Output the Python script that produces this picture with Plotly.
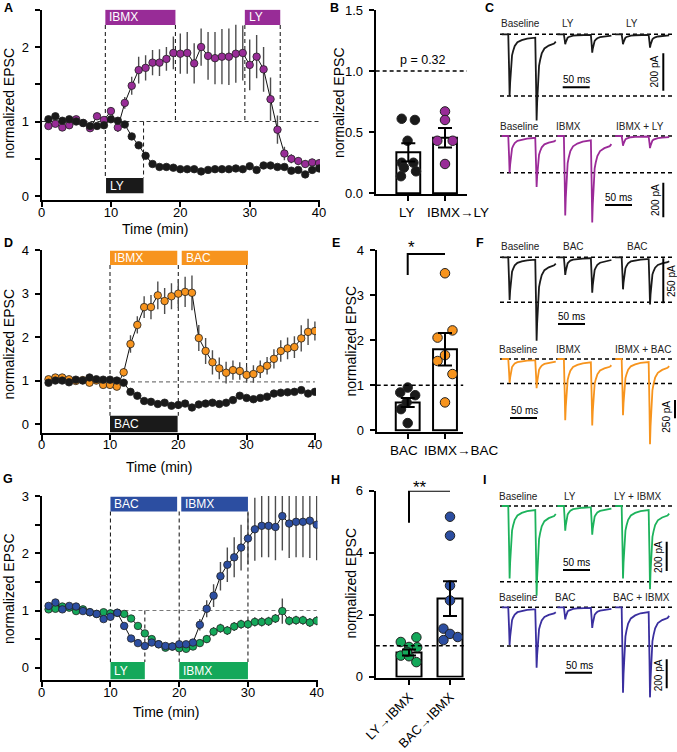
import plotly.graph_objects as go

W, H = 677, 752
FONT = "Liberation Sans, Arial, Helvetica, sans-serif"

# ------------------------------------------------------------------ data
TIME_MIN = list(range(1, 41))

# Panel A
A_IBMX_LY = [0.94, 0.97, 0.92, 0.95, 1.03, 0.98, 0.91, 1.07, 1.02, 1.14,
             0.92, 1.25, 1.48, 1.69, 1.72, 1.79, 1.79, 1.84, 1.92, 1.91,
             1.92, 1.78, 2.00, 1.88, 1.85, 1.87, 1.87, 1.91, 1.92, 1.76,
             1.87, 1.70, 1.30, 0.89, 0.57, 0.50, 0.47, 0.43, 0.45, 0.44]
A_IBMX_LY_SEM = [0.03, 0.03, 0.03, 0.03, 0.03, 0.03, 0.03, 0.04, 0.04, 0.05,
                 0.06, 0.08, 0.12, 0.18, 0.17, 0.17, 0.18, 0.16, 0.22, 0.27,
                 0.28, 0.27, 0.25, 0.32, 0.35, 0.37, 0.38, 0.39, 0.37, 0.34,
                 0.29, 0.30, 0.29, 0.19, 0.09, 0.06, 0.05, 0.05, 0.05, 0.05]
A_LY = [1.03, 1.07, 1.01, 1.03, 1.00, 0.98, 0.94, 0.94, 0.95, 1.03,
        1.01, 0.96, 0.80, 0.68, 0.54, 0.43, 0.39, 0.39, 0.38, 0.36,
        0.36, 0.36, 0.33, 0.35, 0.36, 0.36, 0.36, 0.37, 0.36, 0.40,
        0.35, 0.41, 0.41, 0.39, 0.39, 0.34, 0.35, 0.29, 0.35, 0.37]
A_LY_SEM = [0.04, 0.04, 0.03, 0.03, 0.03, 0.03, 0.03, 0.03, 0.03, 0.03,
            0.03, 0.03, 0.03, 0.03, 0.03, 0.03, 0.03, 0.03, 0.03, 0.03,
            0.03, 0.03, 0.03, 0.03, 0.03, 0.03, 0.03, 0.03, 0.03, 0.04,
            0.04, 0.04, 0.04, 0.04, 0.04, 0.04, 0.04, 0.04, 0.04, 0.04]

# Panel B
B_CATS = ["LY", "IBMX\u2192LY"]
B_MEAN = [0.335, 0.455]
B_SEM = [0.075, 0.08]
B_LY_PTS = [0.61, 0.60, 0.43, 0.25, 0.25, 0.21, 0.18, 0.14]
B_IBMX_LY_PTS = [0.67, 0.60, 0.43, 0.43, 0.24]
B_P_TEXT = "p = 0.32"

# Panel D
D_IBMX_BAC = [1.03, 1.07, 1.07, 1.03, 0.99, 1.01, 0.95, 1.00, 0.90, 0.90,
              0.86, 1.19, 1.84, 2.28, 2.69, 2.69, 2.96, 2.83, 2.94, 3.00,
              3.04, 3.02, 1.98, 1.68, 1.42, 1.28, 1.18, 1.24, 1.22, 1.13,
              1.15, 1.26, 1.34, 1.50, 1.68, 1.74, 1.77, 1.97, 2.12, 2.14]
D_IBMX_BAC_SEM = [0.03, 0.03, 0.03, 0.03, 0.03, 0.03, 0.03, 0.04, 0.04, 0.05,
                  0.05, 0.10, 0.20, 0.20, 0.25, 0.28, 0.32, 0.30, 0.30, 0.33,
                  0.35, 0.40, 0.30, 0.30, 0.28, 0.25, 0.25, 0.22, 0.20, 0.18,
                  0.20, 0.20, 0.20, 0.22, 0.25, 0.25, 0.25, 0.30, 0.30, 0.22]
D_BAC = [0.95, 1.00, 1.00, 0.96, 1.02, 1.00, 1.07, 1.03, 1.02, 1.02,
         1.00, 0.95, 0.74, 0.65, 0.53, 0.51, 0.46, 0.49, 0.42, 0.44,
         0.47, 0.38, 0.45, 0.47, 0.49, 0.46, 0.49, 0.55, 0.65, 0.60,
         0.57, 0.60, 0.63, 0.70, 0.72, 0.73, 0.74, 0.78, 0.70, 0.74]
D_BAC_SEM = [0.04, 0.04, 0.04, 0.04, 0.04, 0.04, 0.04, 0.04, 0.04, 0.04,
             0.04, 0.04, 0.04, 0.04, 0.04, 0.04, 0.04, 0.04, 0.04, 0.04,
             0.04, 0.04, 0.04, 0.04, 0.04, 0.04, 0.04, 0.04, 0.04, 0.04,
             0.04, 0.04, 0.04, 0.04, 0.04, 0.04, 0.04, 0.04, 0.04, 0.04]

# Panel E
E_CATS = ["BAC", "IBMX\u2192BAC"]
E_MEAN = [0.62, 1.80]
E_SEM = [0.10, 0.36]
E_BAC_PTS = [0.95, 0.84, 0.78, 0.62, 0.47, 0.16]
E_IBMX_BAC_PTS = [3.49, 2.22, 2.06, 1.67, 1.54, 1.25, 0.62]
E_SIG = "*"

# Panel G
G_BAC_IBMX = [1.08, 1.14, 1.02, 1.08, 1.07, 0.99, 0.97, 0.94, 0.85, 0.89,
              0.96, 0.73, 0.51, 0.43, 0.38, 0.44, 0.41, 0.38, 0.37, 0.41,
              0.41, 0.44, 0.75, 1.03, 1.26, 1.60, 1.80, 1.93, 2.10, 2.26,
              2.42, 2.48, 2.48, 2.46, 2.65, 2.52, 2.55, 2.55, 2.57, 2.50]
G_BAC_IBMX_SEM = [0.04, 0.04, 0.04, 0.04, 0.04, 0.04, 0.04, 0.04, 0.04, 0.04,
                  0.04, 0.05, 0.05, 0.05, 0.05, 0.05, 0.05, 0.05, 0.05, 0.05,
                  0.05, 0.06, 0.10, 0.15, 0.20, 0.25, 0.30, 0.35, 0.40, 0.45,
                  0.55, 0.55, 0.55, 0.58, 0.60, 0.60, 0.62, 0.62, 0.65, 0.62]
G_LY_IBMX = [1.02, 1.03, 1.07, 1.05, 0.99, 1.02, 0.97, 0.94, 0.97, 0.95,
             0.96, 0.94, 0.86, 0.73, 0.60, 0.50, 0.41, 0.35, 0.37, 0.34,
             0.33, 0.37, 0.43, 0.50, 0.63, 0.69, 0.65, 0.72, 0.76, 0.76,
             0.80, 0.80, 0.81, 0.86, 0.99, 0.82, 0.83, 0.83, 0.79, 0.82]
G_LY_IBMX_SEM = [0.04, 0.04, 0.04, 0.04, 0.04, 0.04, 0.04, 0.04, 0.04, 0.04,
                 0.04, 0.05, 0.05, 0.05, 0.05, 0.05, 0.05, 0.05, 0.05, 0.05,
                 0.05, 0.05, 0.06, 0.07, 0.08, 0.08, 0.08, 0.08, 0.08, 0.08,
                 0.08, 0.08, 0.08, 0.08, 0.22, 0.08, 0.08, 0.08, 0.08, 0.08]

# Panel H
H_CATS = ["LY\u2192IBMX", "BAC\u2192IBMX"]
H_MEAN = [0.78, 2.52]
H_SEM = [0.10, 0.56]
H_LY_IBMX_PTS = [1.27, 1.12, 0.96, 0.95, 0.68, 0.66, 0.47, 0.80]
H_BAC_IBMX_PTS = [5.16, 4.55, 2.94, 2.46, 1.55, 1.38, 1.28, 1.18]
H_SIG = "**"

# Example EPSC traces: peak amplitudes (pA) for [first, second] EPSC of each sweep
C_TOP_AMP = [[330, 443], [53, 95], [53, 68]]
C_BOT_AMP = [[212, 283], [460, 475], [56, 67]]
F_TOP_AMP = [[237, 450], [98, 191], [178, 252]]
F_BOT_AMP = [[325, 380], [836, 860], [767, 1120]]
I_TOP_AMP = [[493, 584], [168, 186], [493, 539]]
I_BOT_AMP = [[260, 403], [83, 138], [589, 589]]
C_TOP_LAB = ["Baseline", "LY", "LY"]
C_BOT_LAB = ["Baseline", "IBMX", "IBMX + LY"]
F_TOP_LAB = ["Baseline", "BAC", "BAC"]
F_BOT_LAB = ["Baseline", "IBMX", "IBMX + BAC"]
I_TOP_LAB = ["Baseline", "LY", "LY + IBMX"]
I_BOT_LAB = ["Baseline", "BAC", "BAC + IBMX"]
# normalized EPSC waveform (time after stimulus, ms)
EPSC_T = [0, 1.5, 2.5, 3.5, 5, 7, 9, 12, 17, 25, 35, 47]
EPSC_SHAPE = [0, -0.55, -1.0, -0.78, -0.5, -0.34, -0.27, -0.19, -0.13, -0.095, -0.07, -0.055]

# ------------------------------------------------------------------ styles
PURPLE = "#982c97"
ORANGE = "#f7941e"
BLUE = "#2c4ea1"
GREEN = "#14a85a"
BLACK = "#1a1a1a"
TR_PURPLE = "#9b2a98"
TR_ORANGE = "#f7941d"
TR_GREEN = "#1db35c"
TR_INDIGO = "#3a2f9f"

# jitter of individual cells in bar plots (x offsets in category units)
B_LY_JIT = [-0.18, 0.18, -0.02, -0.18, 0.14, -0.12, 0.21, -0.20]
B_IBMX_LY_JIT = [0.0, 0.0, -0.21, 0.21, 0.0]
E_BAC_JIT = [0.0, -0.20, 0.20, -0.03, -0.18, 0.0]
E_IBMX_BAC_JIT = [0.0, 0.20, -0.20, 0.0, -0.20, 0.20, 0.0]
H_LY_IBMX_JIT = [0.18, -0.20, 0.0, 0.20, -0.20, 0.0, 0.18, -0.05]
H_BAC_IBMX_JIT = [0.0, 0.0, 0.0, 0.0, -0.16, 0.0, 0.19, -0.16]

fig = go.Figure()
layout = {}
shapes = []
annos = []


def ax_names(n):
    return ("xaxis" if n == 1 else f"xaxis{n}", "yaxis" if n == 1 else f"yaxis{n}",
            "x" if n == 1 else f"x{n}", "y" if n == 1 else f"y{n}")


VIS = dict(showline=True, linecolor="black", linewidth=2, ticks="outside", ticklen=5,
           tickwidth=2, tickcolor="black", showgrid=False, zeroline=False,
           tickfont=dict(family=FONT, size=13, color="black"), automargin=False, fixedrange=True)


def set_axes(n, xl, xr, xzero, xppu, yt, yb, yzero, yppu, xkw=None, ykw=None, visible=True):
    xa, ya, xr_, yr_ = ax_names(n)
    base = dict(VIS) if visible else dict(visible=False, fixedrange=True, automargin=False)
    xd = dict(base, domain=[xl / W, xr / W], range=[(xl - xzero) / xppu, (xr - xzero) / xppu], anchor=yr_)
    yd = dict(base, domain=[1 - yb / H, 1 - yt / H], range=[(yzero - yb) / yppu, (yzero - yt) / yppu], anchor=xr_)
    if visible:
        xd["ticklabelstandoff"] = -6
        yd["ticklabelstandoff"] = 3
    if xkw:
        xd.update(xkw)
    if ykw:
        yd.update(ykw)
    layout[xa] = xd
    layout[ya] = yd


def paper_text(x, y, text, size=13, bold=False, angle=0, color="black", xanchor="center", yanchor="middle"):
    annos.append(dict(x=x / W, y=1 - y / H, xref="paper", yref="paper", text=f"<b>{text}</b>" if bold else text,
                      showarrow=False, textangle=angle, xanchor=xanchor, yanchor=yanchor,
                      font=dict(family=FONT, size=size, color=color)))


# ------------------------------------------------------------------ time courses
def time_course(n, series, drugs_top, drugs_bot, vlines, hline, hcolor, bar_top, bar_bot):
    xr_, yr_ = ax_names(n)[2:]
    for y, sem, col in series:
        fig.add_trace(go.Scatter(
            x=TIME_MIN, y=y, mode="lines+markers", xaxis=xr_, yaxis=yr_, showlegend=False,
            line=dict(color="#111111", width=1),
            marker=dict(size=7.5, color=col, line=dict(color="#222222", width=0.8)),
            error_y=dict(type="data", array=sem, color="#4d4d4d", thickness=1.4, width=0)))
    for (lab, x0, x1, col) in drugs_top:
        shapes.append(dict(type="rect", xref=xr_, yref=yr_, x0=x0, x1=x1, y0=bar_top[0], y1=bar_top[1],
                           fillcolor=col, line=dict(width=0), layer="above"))
        annos.append(dict(x=x0, y=(bar_top[0] + bar_top[1]) / 2, xref=xr_, yref=yr_, text=lab, showarrow=False,
                          xanchor="left", yanchor="middle", xshift=2,
                          font=dict(family=FONT, size=12, color="white")))
    for (lab, x0, x1, col) in drugs_bot:
        shapes.append(dict(type="rect", xref=xr_, yref=yr_, x0=x0, x1=x1, y0=bar_bot[0], y1=bar_bot[1],
                           fillcolor=col, line=dict(width=0), layer="above"))
        annos.append(dict(x=x0, y=(bar_bot[0] + bar_bot[1]) / 2, xref=xr_, yref=yr_, text=lab, showarrow=False,
                          xanchor="left", yanchor="middle", xshift=2,
                          font=dict(family=FONT, size=12, color="white")))
    for (x, y0, y1) in vlines:
        shapes.append(dict(type="line", xref=xr_, yref=yr_, x0=x, x1=x, y0=y0, y1=y1,
                           line=dict(color="#222222", width=1.1, dash="4px,3px"), layer="below"))
    shapes.append(dict(type="line", xref=xr_, yref=yr_, x0=hline[0], x1=hline[1], y0=hline[2], y1=hline[2],
                       line=dict(color=hcolor, width=1.1, dash="4px,3px"), layer="below"))


# A
set_axes(1, 41.5, 320, 41.5, 6.94, 9.7, 200, 196, 74.5,
         xkw=dict(tick0=0, dtick=10),
         ykw=dict(tick0=0, dtick=1, minor=dict(dtick=0.5, ticks="outside", ticklen=5, tickwidth=2, tickcolor="black")))
time_course(1, [(A_IBMX_LY, A_IBMX_LY_SEM, PURPLE), (A_LY, A_LY_SEM, BLACK)],
            [("IBMX", 9.2, 19.3, PURPLE), ("LY", 29.3, 34.4, PURPLE)],
            [("LY", 9.3, 14.7, BLACK)],
            [(9.2, 2.295, 0.24), (19.3, 2.295, 1.0), (29.3, 2.295, 1.0), (34.4, 2.295, 1.0), (14.7, 1.0, 0.24)],
            (0, 40, 1.0), "#333333", (2.295, 2.505), (0.036, 0.24))

# D
set_axes(3, 41.7, 316, 41.7, 6.83, 250, 432.7, 424, 43.45,
         xkw=dict(tick0=0, dtick=10), ykw=dict(tick0=0, dtick=1))
time_course(3, [(D_IBMX_BAC, D_IBMX_BAC_SEM, ORANGE), (D_BAC, D_BAC_SEM, BLACK)],
            [("IBMX", 10, 19.85, ORANGE), ("BAC", 20.5, 30.2, ORANGE)],
            [("BAC", 10, 19.9, BLACK)],
            [(10, 3.66, 0.19), (20, 3.66, 0.19), (30, 3.66, 0.97)],
            (10, 40, 0.97), "#7a7a7a", (3.66, 3.99), (-0.19, 0.19))

# G
set_axes(5, 41.7, 317.5, 41.7, 6.875, 496, 680, 667.7, 57.2,
         xkw=dict(tick0=0, dtick=10),
         ykw=dict(tick0=0, dtick=1, minor=dict(dtick=0.5, ticks="outside", ticklen=5, tickwidth=2, tickcolor="black")))
time_course(5, [(G_LY_IBMX, G_LY_IBMX_SEM, GREEN), (G_BAC_IBMX, G_BAC_IBMX_SEM, BLUE)],
            [("BAC", 10, 19.7, BLUE), ("IBMX", 20.3, 30, BLUE)],
            [("LY", 10, 15, GREEN), ("IBMX", 20, 30, GREEN)],
            [(10, 2.73, 0.1), (20, 2.73, 0.1), (30, 2.73, 0.1), (15, 1.0, 0.1)],
            (10, 40, 1.0), "#7a7a7a", (2.73, 2.99), (-0.2, 0.1))


# ------------------------------------------------------------------ bar plots
def bar_panel(n, cats, means, sems, pts, jits, cols, width):
    xr_, yr_ = ax_names(n)[2:]
    fig.add_trace(go.Bar(x=[0, 1], y=means, width=width, xaxis=xr_, yaxis=yr_, showlegend=False,
                         marker=dict(color="white", line=dict(color="black", width=2))))
    for i, (p, j, c) in enumerate(zip(pts, jits, cols)):
        fig.add_trace(go.Scatter(x=[i + d for d in j], y=p, mode="markers", xaxis=xr_, yaxis=yr_,
                                 showlegend=False,
                                 marker=dict(size=9.5, color=c, line=dict(color="#222222", width=1))))
    fig.add_trace(go.Scatter(x=[0, 1], y=means, mode="markers", xaxis=xr_, yaxis=yr_, showlegend=False,
                             marker=dict(size=1, color="rgba(0,0,0,0)"),
                             error_y=dict(type="data", array=sems, color="black", thickness=2, width=7)))


# category labels of B and E sit a little right of the ticks in the original
BLANK = ["", ""]
set_axes(2, 375.7, 467, 408.3, 36.7, 10, 194, 193.3, 122.2,
         xkw=dict(tickvals=[0, 1], ticktext=BLANK, tickangle=0),
         ykw=dict(tick0=0, dtick=0.5, tickformat=".1f"))
bar_panel(2, B_CATS, B_MEAN, B_SEM, [B_LY_PTS, B_IBMX_LY_PTS], [B_LY_JIT, B_IBMX_LY_JIT], [BLACK, PURPLE], 0.65)
shapes.append(dict(type="line", xref="x2", yref="y2", x0=-0.89, x1=1.75, y0=1.0, y1=1.0,
                   line=dict(color="black", width=1.5, dash="4px,3px")))
paper_text(423, 60, B_P_TEXT, size=12.5)
paper_text(407, 212, B_CATS[0], size=13.5)
paper_text(458, 212, B_CATS[1], size=13.5)

set_axes(4, 376.7, 463.3, 407.7, 37.3, 250.3, 431.7, 430.3, 45,
         xkw=dict(tickvals=[0, 1], ticktext=BLANK, tickangle=0), ykw=dict(tick0=0, dtick=1))
bar_panel(4, E_CATS, E_MEAN, E_SEM, [E_BAC_PTS, E_IBMX_BAC_PTS], [E_BAC_JIT, E_IBMX_BAC_JIT], [BLACK, ORANGE], 0.64)
shapes.append(dict(type="line", xref="x4", yref="y4", x0=-0.83, x1=1.5, y0=1.0, y1=1.0,
                   line=dict(color="black", width=1.5, dash="4px,3px")))
shapes.append(dict(type="path", xref="x4", yref="y4", path="M 0,3.45 L 0,3.92 L 1,3.92",
                   line=dict(color="black", width=2)))
paper_text(411, 247, E_SIG, size=17)
paper_text(403.5, 450, E_CATS[0], size=13.5)
paper_text(461, 450, E_CATS[1], size=13.5)

set_axes(6, 375.7, 465, 409, 41, 490.7, 677.5, 676.7, 31,
         xkw=dict(tickvals=[0, 1], ticktext=H_CATS, tickangle=-45, ticklabelstandoff=0),
         ykw=dict(tick0=0, dtick=2))
bar_panel(6, H_CATS, H_MEAN, H_SEM, [H_LY_IBMX_PTS, H_BAC_IBMX_PTS], [H_LY_IBMX_JIT, H_BAC_IBMX_JIT], [GREEN, BLUE], 0.61)
shapes.append(dict(type="line", xref="x6", yref="y6", x0=-0.81, x1=1.45, y0=1.0, y1=1.0,
                   line=dict(color="black", width=1.5, dash="4px,3px")))
shapes.append(dict(type="path", xref="x6", yref="y6", path="M 0,4.97 L 0,6.0 L 1,6.0",
                   line=dict(color="black", width=2)))
paper_text(420, 487, H_SIG, size=17)

# ------------------------------------------------------------------ example traces
TR_X0, TR_X1, TR_PPMS = 498, 676, 0.54
SEG_OFF = [7, 110, 217]
P1, P2, SEG_LEN = 12, 62, 100


def sweep(off, a1, a2):
    xs, ys = [off], [0]
    for t, v in zip(EPSC_T, EPSC_SHAPE):
        xs.append(off + P1 + t)
        ys.append(a1 * v)
    res = a1 * EPSC_SHAPE[-1]
    for t, v in zip(EPSC_T, EPSC_SHAPE):
        if P2 + t <= SEG_LEN - 2:
            xs.append(off + P2 + t)
            ys.append(a2 * v + res)
    xs.append(off + SEG_LEN)
    ys.append(0.8 * (a2 * EPSC_SHAPE[-2] + res))
    return xs, ys


ROWS = [
    dict(n=7, amp=C_TOP_AMP, lab=C_TOP_LAB, col=BLACK, y0=34.3, ppu=0.187, lower=330, laby=24,
         labx=[520, 568, 632], hbar=(562.7, 87.3), htext=(576.5, 79), vbar=(663.3, 53.3, 200),
         vtext=(654.5, 72, "200 pA")),
    dict(n=8, amp=C_BOT_AMP, lab=C_BOT_LAB, col=TR_PURPLE, y0=136, ppu=0.173, lower=212, laby=126.7,
         labx=[519, 568, 640], hbar=(605, 205), htext=(618.5, 197), vbar=(663.3, 182.7, 200),
         vtext=(655, 200, "200 pA")),
    dict(n=9, amp=F_TOP_AMP, lab=F_TOP_LAB, col=BLACK, y0=257.3, ppu=0.18, lower=250, laby=246.7,
         labx=[520, 573, 637], hbar=(558, 324), htext=(571.5, 316), vbar=(663.3, 258.3, 250),
         vtext=(671, 281, "250 pA")),
    dict(n=10, amp=F_BOT_AMP, lab=F_BOT_LAB, col=TR_ORANGE, y0=359, ppu=0.0733, lower=333, laby=349,
         labx=[518, 568, 643], hbar=(510, 418), htext=(524, 410), vbar=(675, 400, 250),
         vtext=(667, 416.7, "250 pA")),
    dict(n=11, amp=I_TOP_AMP, lab=I_TOP_LAB, col=TR_GREEN, y0=506, ppu=0.147, lower=516, laby=496.7,
         labx=[518, 570, 637], hbar=(563, 570), htext=(576.7, 562.3), vbar=(666.7, 541.7, 200),
         vtext=(658.3, 556.7, "200 pA")),
    dict(n=12, amp=I_BOT_AMP, lab=I_BOT_LAB, col=TR_INDIGO, y0=607.3, ppu=0.145, lower=267, laby=597.3,
         labx=[518, 565, 641.7], hbar=(565, 672.7), htext=(579, 665.3), vbar=(666.7, 659.3, 200),
         vtext=(658.3, 675, "200 pA")),
]

for r in ROWS:
    n = r["n"]
    xr_, yr_ = ax_names(n)[2:]
    y0, ppu = r["y0"], r["ppu"]
    maxamp = max(max(a) for a in r["amp"])
    bottom = max(y0 + maxamp * ppu, r["vbar"][1] + r["vbar"][2] * ppu, r["hbar"][1]) + 5
    set_axes(n, TR_X0, TR_X1, TR_X0, TR_PPMS, y0 - 14, bottom, y0, ppu, visible=False)
    xs, ys = [], []
    for off, (a1, a2) in zip(SEG_OFF, r["amp"]):
        sx, sy = sweep(off, a1, a2)
        xs += sx + [None]
        ys += sy + [None]
    fig.add_trace(go.Scatter(x=xs, y=ys, mode="lines", xaxis=xr_, yaxis=yr_, showlegend=False,
                             line=dict(color=r["col"], width=1.8), connectgaps=False))
    ms = lambda px: (px - TR_X0) / TR_PPMS
    pa = lambda py: (y0 - py) / ppu
    for lvl in (0, -r["lower"]):
        shapes.append(dict(type="line", xref=xr_, yref=yr_, x0=ms(500), x1=ms(673), y0=lvl, y1=lvl,
                           line=dict(color="black", width=1.5, dash="4px,3px"), layer="below"))
    hx, hy = r["hbar"]
    shapes.append(dict(type="line", xref=xr_, yref=yr_, x0=ms(hx), x1=ms(hx) + 50, y0=pa(hy), y1=pa(hy),
                       line=dict(color="black", width=2)))
    vx, vy, vlen = r["vbar"]
    shapes.append(dict(type="line", xref=xr_, yref=yr_, x0=ms(vx), x1=ms(vx), y0=pa(vy), y1=pa(vy) - vlen,
                       line=dict(color="black", width=2)))
    paper_text(r["htext"][0], r["htext"][1], "50 ms", size=10)
    paper_text(r["vtext"][0], r["vtext"][1], r["vtext"][2], size=10, angle=-90)
    for lx, lt in zip(r["labx"], r["lab"]):
        paper_text(lx, r["laby"], lt, size=10, color="#222222")

# ------------------------------------------------------------------ titles and letters
paper_text(8.5, 103, "normalized EPSC", size=14, angle=-90)
paper_text(155, 229, "Time (min)", size=14)
paper_text(338.5, 102.5, "normalized EPSC", size=14, angle=-90)
paper_text(8.5, 344, "normalized EPSC", size=14, angle=-90)
paper_text(159, 467, "Time (min)", size=14)
paper_text(350, 341.5, "normalized EPSC", size=14, angle=-90)
paper_text(8.5, 588.5, "normalized EPSC", size=14, angle=-90)
paper_text(165.7, 712, "Time (min)", size=14)
paper_text(350, 583.5, "normalized EPSC", size=14, angle=-90)

for lt, lx, ly in [("A", 8, 8), ("B", 334, 8), ("C", 489, 8), ("D", 8, 243), ("E", 336, 243),
                   ("F", 480, 243), ("G", 8, 479), ("H", 335, 480), ("I", 484, 480)]:
    paper_text(lx, ly, lt, size=12.5, bold=True)

layout.update(dict(width=W, height=H, margin=dict(l=0, r=0, t=0, b=0), paper_bgcolor="white",
                   plot_bgcolor="rgba(0,0,0,0)", shapes=shapes, annotations=annos, bargap=0,
                   font=dict(family=FONT, size=13, color="black"), showlegend=False))
fig.update_layout(**layout)
fig.write_html("out.html", config={"displayModeBar": False, "staticPlot": True})

# remove the browser's default 8px page margin so the figure sits at the window origin
with open("out.html", encoding="utf-8") as fh:
    html = fh.read()
html = html.replace("<body>", '<body style="margin:0;padding:0;overflow:hidden">', 1)
with open("out.html", "w", encoding="utf-8") as fh:
    fh.write(html)
